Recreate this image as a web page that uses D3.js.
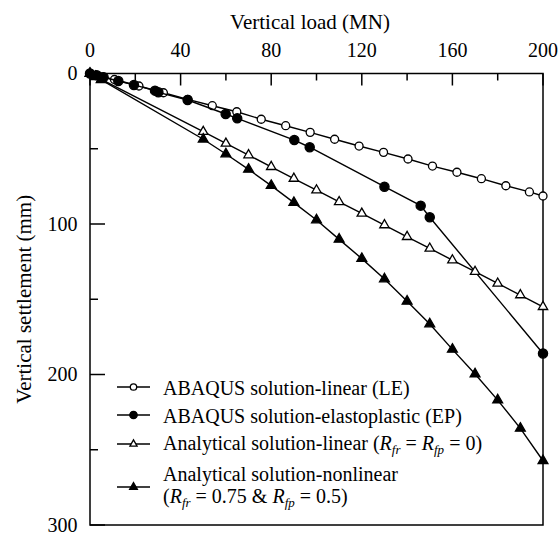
<!DOCTYPE html>
<html>
<head>
<meta charset="utf-8">
<script src="https://cdn.jsdelivr.net/npm/d3@7"></script>
</head>
<body style="margin:0">
<svg id="chart" width="559" height="534" font-family="Liberation Serif"></svg>
<script>
// Load-settlement data (vertical load in MN, settlement in mm)
const loadLE   = [0, 5.4, 10.8, 21.6, 32.4, 43.2, 54, 64.8, 75.6, 86.4, 97.2, 108, 118.8, 129.6, 140.4, 151.2, 162, 172.8, 183.6, 194, 200];
const settleLE = [0, 2.2, 4.0, 8.3, 12.8, 17.2, 21.4, 25.4, 30.4, 34.7, 39.1, 43.7, 48.2, 52.4, 56.8, 61.5, 65.6, 69.9, 74.6, 78.7, 81.4];

const loadEP   = [0, 3, 6, 12.5, 19.4, 28.7, 30.2, 43.1, 59.9, 65, 90.2, 97, 130, 146, 150, 200];
const settleEP = [0, 1.2, 2.5, 5, 7.6, 11.4, 12.5, 17.6, 26.9, 29.8, 44.2, 49, 75.2, 87.8, 95.5, 186];

const loadAL   = [0, 2.5, 5, 50, 60, 70, 80, 90, 100, 110, 120, 130, 140, 150, 160, 170, 180, 190, 200];
const settleAL = [0, 1.9, 3.9, 38.7, 46.5, 54.2, 62, 69.8, 77.5, 85.3, 93, 100.7, 108.5, 116.2, 124, 131.7, 139.5, 147.2, 155];

const loadAN   = [0, 2.5, 5, 50, 60, 70, 80, 90, 100, 110, 120, 130, 140, 150, 160, 170, 180, 190, 200];
const settleAN = [0, 2.1, 4.2, 43.7, 53.5, 63.7, 74.5, 85.8, 97.3, 110.2, 123, 136.5, 151.4, 166.4, 183.3, 199.7, 217, 235.8, 257.3];

const xMajorTicks = [0, 40, 80, 120, 160, 200];
const xMinorTicks = [20, 60, 100, 140, 180];
const yMajorTicks = [0, 100, 200, 300];
const yMinorTicks = [50, 150, 250];

const FONT = "Liberation Serif";

// Ask for the serif faces up front so they are ready when the text is laid out
if (document.fonts && document.fonts.load) {
  ["20px", "italic 20px", "italic 13px", "21px"].forEach(s =>
    document.fonts.load(`${s} "${FONT}"`).catch(() => {}));
}

const svg = d3.select("#chart");
const x = d3.scaleLinear().domain([0, 200]).range([90, 543]);
const y = d3.scaleLinear().domain([0, 300]).range([73.5, 525]);

function serif(sel, size) {
  return sel.attr("font-family", FONT).attr("font-size", size).attr("fill", "#000");
}

// Top axis ticks (pointing inward) and labels
const gx = svg.append("g");
gx.selectAll("line.minor").data(xMinorTicks).join("line").attr("class", "minor")
  .attr("x1", d => x(d)).attr("x2", d => x(d)).attr("y1", y(0)).attr("y2", y(0) + 7)
  .attr("stroke", "#000").attr("stroke-width", 1.5);
gx.selectAll("line.major").data(xMajorTicks).join("line").attr("class", "major")
  .attr("x1", d => x(d)).attr("x2", d => x(d)).attr("y1", y(0)).attr("y2", y(0) + 12)
  .attr("stroke", "#000").attr("stroke-width", 1.5);
serif(gx.selectAll("text").data(xMajorTicks).join("text")
  .attr("x", d => x(d)).attr("y", y(0) - 16.5).attr("text-anchor", "middle")
  .text(d => d), 20);

// Left axis ticks and labels
const gy = svg.append("g");
gy.selectAll("line.minor").data(yMinorTicks).join("line").attr("class", "minor")
  .attr("x1", x(0)).attr("x2", x(0) + 8).attr("y1", d => y(d)).attr("y2", d => y(d))
  .attr("stroke", "#000").attr("stroke-width", 1.5);
gy.selectAll("line.major").data(yMajorTicks).join("line").attr("class", "major")
  .attr("x1", x(0)).attr("x2", x(0) + 15).attr("y1", d => y(d)).attr("y2", d => y(d))
  .attr("stroke", "#000").attr("stroke-width", 1.5);
serif(gy.selectAll("text").data(yMajorTicks).join("text")
  .attr("x", x(0) - 12.5).attr("y", d => y(d) + 6.5).attr("text-anchor", "end")
  .text(d => d), 20);

// Plot frame
svg.append("rect")
  .attr("x", x(0)).attr("y", y(0))
  .attr("width", x(200) - x(0)).attr("height", y(300) - y(0))
  .attr("fill", "none").attr("stroke", "#000").attr("stroke-width", 1.5);

// Axis titles
serif(svg.append("text").attr("x", 310).attr("y", 28.5)
  .attr("text-anchor", "middle").text("Vertical load (MN)"), 21);
serif(svg.append("text")
  .attr("transform", `translate(31,${(y(0) + y(300)) / 2}) rotate(-90)`)
  .attr("text-anchor", "middle").text("Vertical settlement (mm)"), 21);

const line = d3.line().x(d => x(d[0])).y(d => y(d[1]));
const zip = (a, b) => a.map((v, i) => [v, b[i]]);

const series = [
  { pts: zip(loadLE, settleLE), shape: "circle", fill: "#fff", r: 4 },
  { pts: zip(loadEP, settleEP), shape: "circle", fill: "#000", r: 4.6 },
  { pts: zip(loadAL, settleAL), shape: "triangle", fill: "#fff", size: 38 },
  { pts: zip(loadAN, settleAN), shape: "triangle", fill: "#000", size: 42 }
];

const triangle = s => d3.symbol(d3.symbolTriangle, s)();

function drawMarker(g, shape, fill, cx, cy, r, size) {
  if (shape === "circle") {
    g.append("circle").attr("cx", cx).attr("cy", cy).attr("r", r)
      .attr("fill", fill).attr("stroke", "#000").attr("stroke-width", 1.3);
  } else {
    g.append("path").attr("d", triangle(size))
      .attr("transform", `translate(${cx},${cy})`)
      .attr("fill", fill).attr("stroke", "#000").attr("stroke-width", 1.3)
      .attr("stroke-linejoin", "miter");
  }
}

const plot = svg.append("g");
series.forEach(s => {
  plot.append("path").datum(s.pts).attr("d", line)
    .attr("fill", "none").attr("stroke", "#000").attr("stroke-width", 1.4);
  s.pts.forEach(p => drawMarker(plot, s.shape, s.fill, x(p[0]), y(p[1]), s.r, s.size));
});

// Legend
const legend = svg.append("g");
const legendRows = [
  { yLine: 387, yText: 395, shape: "circle", fill: "#fff", r: 3.2 },
  { yLine: 415, yText: 422.5, shape: "circle", fill: "#000", r: 3.7 },
  { yLine: 444, yText: 450, shape: "triangle", fill: "#fff", size: 22 },
  { yLine: 487, yText: 480.5, shape: "triangle", fill: "#000", size: 26 }
];
legendRows.forEach(row => {
  legend.append("line").attr("x1", 117).attr("x2", 150)
    .attr("y1", row.yLine).attr("y2", row.yLine)
    .attr("stroke", "#000").attr("stroke-width", 1.5);
  drawMarker(legend, row.shape, row.fill, 133.5, row.yLine, row.r, row.size);
});

const legendText = yPos => serif(legend.append("text").attr("x", 163).attr("y", yPos), 20);

legendText(legendRows[0].yText).text("ABAQUS solution-linear (LE)");
legendText(legendRows[1].yText).text("ABAQUS solution-elastoplastic (EP)");

// Plain run of text inside a legend entry
function addPlain(t, s) {
  serif(t.append("tspan"), 20).text(s);
}
// Italic R with italic subscript
function addR(t, sub) {
  serif(t.append("tspan"), 20).attr("font-style", "italic").text("R");
  serif(t.append("tspan"), 13).attr("font-style", "italic").attr("dy", 4).text(sub);
  serif(t.append("tspan"), 20).attr("dy", -4).text("\u00a0");
}

const t3 = legendText(legendRows[2].yText);
addPlain(t3, "Analytical solution-linear (");
addR(t3, "fr");
addPlain(t3, "= ");
addR(t3, "fp");
addPlain(t3, "= 0)");

legendText(legendRows[3].yText).text("Analytical solution-nonlinear");
const t4 = legendText(502.5);
addPlain(t4, "(");
addR(t4, "fr");
addPlain(t4, "= 0.75 & ");
addR(t4, "fp");
addPlain(t4, "= 0.5)");
</script>
</body>
</html>
